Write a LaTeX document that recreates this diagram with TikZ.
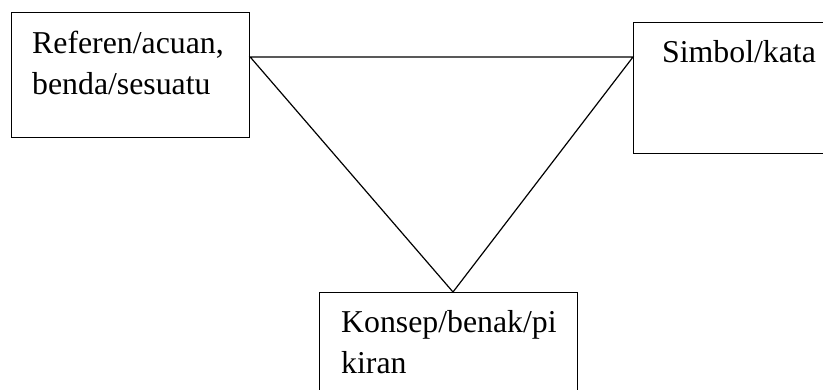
\documentclass[tikz,border=0pt]{standalone}
\usepackage{fontspec}
\setmainfont{Liberation Serif}
\tikzset{
    kotak/.style={draw, line width=1.2pt, rectangle, inner sep=0pt, anchor=north west},
    tulisan/.style={inner sep=0pt, anchor=north west, align=left, font=\fontsize{31.8}{41}\selectfont},
}

\begin{document}
\begin{tikzpicture}[x=1pt,y=-1pt]
            \clip (0,0) rectangle (823,389);
            \fill[white] (0,0) rectangle (823,389);
            % tiga kotak
            \node[kotak, minimum width=238, minimum height=125] (referen) at (11,12) {};
            \node[kotak, minimum width=200, minimum height=131] (simbol) at (633,22) {};
            \node[kotak, minimum width=258, minimum height=110] (konsep) at (319,292) {};
            \node[tulisan] (referentxt) at (32,31) {Referen/acuan,\\benda/sesuatu};
            \node[tulisan] (simboltxt) at (662,40) {Simbol/kata};
            \node[tulisan] (konseptxt) at (341,310) {Konsep/benak/pi\\kiran};
            % titik sudut segitiga
            \coordinate (a) at ([yshift=-45pt]referen.north east);
            \coordinate (b) at ([yshift=-35pt]simbol.north west);
            \coordinate (c) at ([xshift=134pt]konsep.north west);
            \draw[line width=1.2pt] (a)--(b)--(c)--cycle;
        \end{tikzpicture}
\end{document}
